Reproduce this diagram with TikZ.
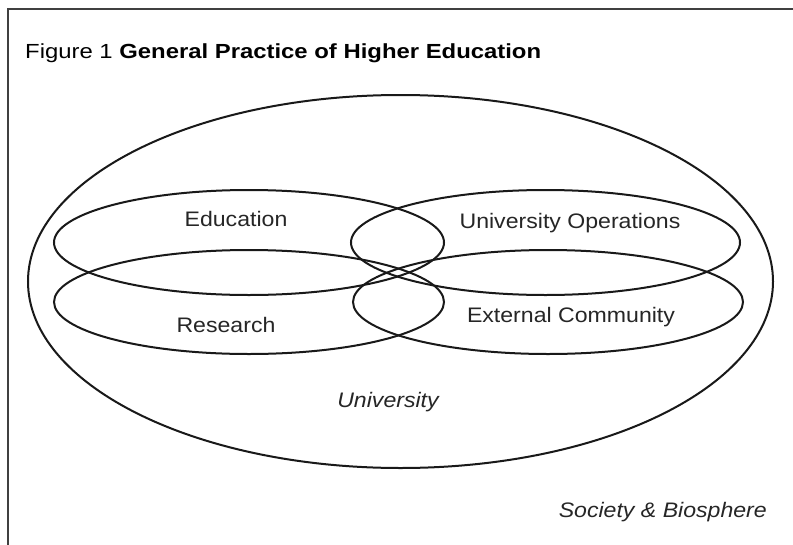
\documentclass[tikz,border=0pt]{standalone}
\usepackage{fontspec}
\setmainfont{Liberation Sans}
\newfontfamily\titlefont[FakeStretch=1.17]{Liberation Sans}
\newfontfamily\labfont[FakeStretch=1.1]{Liberation Sans}
\usetikzlibrary{shapes.geometric}
\begin{document}
\begin{tikzpicture}[x=1pt,y=-1pt,
  ring/.style={draw=black!90, line width=2pt, ellipse, inner sep=0pt, outer sep=0pt},
  lab/.style={inner sep=0pt, anchor=base, text=black!85, font=\labfont\fontsize{21}{24}\selectfont},
  ilab/.style={lab, font=\labfont\fontsize{21}{24}\selectfont\itshape},
  frame/.style={draw=black!75, line width=1.3pt}
]
\useasboundingbox (0,0) rectangle (793,544);
\fill[white] (0,0) rectangle (793,544);
\coordinate (fbl) at (8,560);
\coordinate (ftl) at (8,9);
\coordinate (ftr) at (810,9);
\draw[frame] (fbl) -- (ftl) -- (ftr);

\node[anchor=base west, inner sep=0pt, font=\titlefont\fontsize{20.4}{23}\selectfont] (title) at (25,58)
  {Figure 1 \textbf{General Practice of Higher Education}};

\node[ring, minimum width=745pt, minimum height=373pt] (univ) at (400.5,281.5) {};
\node[ring, minimum width=390pt, minimum height=105pt] (edu) at (249,242.5) {};
\node[ring, minimum width=390pt, minimum height=104pt] (res) at (249,302) {};
\node[ring, minimum width=389pt, minimum height=105pt] (ops) at (545.5,242.5) {};
\node[ring, minimum width=390pt, minimum height=104pt] (ext) at (548,302) {};

\node[lab] (edutxt) at (236,226) {Education};
\node[lab] (restxt) at (226,332) {Research};
\node[lab] (opstxt) at (570,228) {University Operations};
\node[lab] (exttxt) at (571,322) {External Community};
\node[ilab] (univtxt) at (388,407) {University};
\node[ilab, anchor=base east] (soctxt) at (767,517) {Society \& Biosphere};
\end{tikzpicture}
\end{document}
